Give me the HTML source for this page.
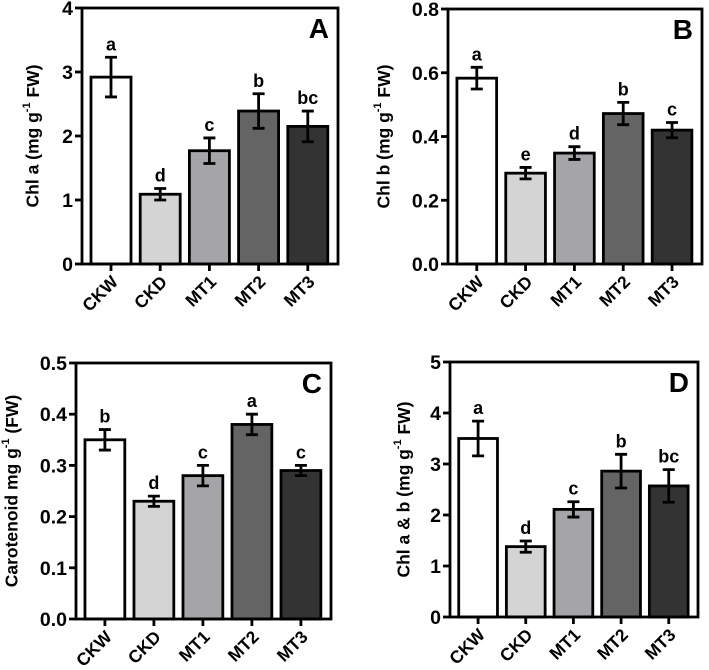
<!DOCTYPE html>
<html><head><meta charset="utf-8"><style>
html,body{margin:0;padding:0;background:#fff;}
svg{display:block;font-family:"Liberation Sans",Arial,sans-serif;font-weight:bold;}
</style></head><body>
<svg id="chart" width="709" height="670" viewBox="0 0 709 670" xmlns="http://www.w3.org/2000/svg"></svg>
<script>
const categories = ["CKW","CKD","MT1","MT2","MT3"];
const barColors = ["#ffffff","#d4d4d4","#a5a5a8","#646464","#333333"];

const valuesA = [2.92,1.09,1.77,2.39,2.15];
const errorsA = [0.31,0.09,0.20,0.27,0.24];
const lettersA = ["a","d","c","b","bc"];
const ticksA = [0,1,2,3,4];
const tickLabelsA = ["0","1","2","3","4"];

const valuesB = [0.583,0.285,0.348,0.472,0.42];
const errorsB = [0.034,0.018,0.02,0.035,0.024];
const lettersB = ["a","e","d","b","c"];
const ticksB = [0,0.2,0.4,0.6,0.8];
const tickLabelsB = ["0.0","0.2","0.4","0.6","0.8"];

const valuesC = [0.35,0.23,0.28,0.38,0.29];
const errorsC = [0.02,0.01,0.02,0.02,0.01];
const lettersC = ["b","d","c","a","c"];
const ticksC = [0,0.1,0.2,0.3,0.4,0.5];
const tickLabelsC = ["0.0","0.1","0.2","0.3","0.4","0.5"];

const valuesD = [3.5,1.38,2.11,2.86,2.57];
const errorsD = [0.34,0.11,0.15,0.33,0.32];
const lettersD = ["a","d","c","b","bc"];
const ticksD = [0,1,2,3,4,5];
const tickLabelsD = ["0","1","2","3","4","5"];

const svg = document.getElementById('chart');
const NS = "http://www.w3.org/2000/svg";
function mk(tag, attrs, parent){
  const e = document.createElementNS(NS, tag);
  for (const k in attrs) e.setAttribute(k, attrs[k]);
  (parent||svg).appendChild(e);
  return e;
}

function panel(id, box, vals, errs, letters, ticks, tickLabels, yTitle, yTitleX, label){
  const g = mk('g', {});
  
  
  const L = box[0], R = box[1], T = box[2], B = box[3];
  const W = R - L, H = B - T;
  const yMax = ticks[ticks.length-1];
  const y = v => B - v / yMax * H;
  const xc = i => L + W * (29 + 49.2 * i) / 256;
  const bw = W * 40 / 256;

  vals.forEach((v, i) => {
    const r = mk('rect', {x: xc(i) - bw/2, y: y(v), width: bw, height: B - y(v), fill: barColors[i], stroke: '#000', 'stroke-width': 2.8}, g);
    
    
    const top = y(v + errs[i]), bot = y(v - errs[i]);
    const eb = mk('path', {d: `M${xc(i)} ${top}V${bot}M${xc(i)-6} ${top}H${xc(i)+6}M${xc(i)-6} ${bot}H${xc(i)+6}`, stroke: '#000', 'stroke-width': 2.8, fill: 'none'}, g);
    
    
    const t = mk('text', {x: xc(i), y: top - 7, 'text-anchor': 'middle', 'font-size': 18}, g);
    t.textContent = letters[i];
    
    
  });

  const fr = mk('rect', {x: L, y: T, width: W, height: H, fill: 'none', stroke: '#000', 'stroke-width': 2.8}, g);
  
  

  ticks.forEach((tv, k) => {
    mk('line', {x1: L - 7, x2: L, y1: y(tv), y2: y(tv), stroke: '#000', 'stroke-width': 2.8}, g);
    const t = mk('text', {x: L - 9, y: y(tv) + 7, 'text-anchor': 'end', 'font-size': 19.5}, g);
    t.textContent = tickLabels[k];
    
    
  });

  categories.forEach((c, i) => {
    mk('line', {x1: xc(i), x2: xc(i), y1: B, y2: B + 7, stroke: '#000', 'stroke-width': 2.8}, g);
    const t = mk('text', {x: xc(i) + 8, y: B + 19, 'text-anchor': 'end', 'font-size': 17.5, transform: `rotate(-45 ${xc(i)+8} ${B+19})`}, g);
    t.textContent = c;
    
    
  });

  const cy = (T + B) / 2;
  const yt = mk('text', {x: yTitleX, y: cy, 'text-anchor': 'middle', 'font-size': 17.5, transform: `rotate(-90 ${yTitleX} ${cy})`, 'dominant-baseline': 'middle'}, g);
  yt.innerHTML = yTitle;
  
  

  const pl = mk('text', {x: R - 9, y: T + 30, 'text-anchor': 'end', 'font-size': 28}, g);
  pl.textContent = label;
  
  
}

const sup = '<tspan dy="-7" font-size="11">-1</tspan><tspan dy="7">';
panel('a', [82,338,8,264], valuesA, errorsA, lettersA, ticksA, tickLabelsA, 'Chl a (mg g' + sup + ' FW)</tspan>', 34, 'A');
panel('b', [448,702,9,264], valuesB, errorsB, lettersB, ticksB, tickLabelsB, 'Chl b (mg g' + sup + ' FW)</tspan>', 385, 'B');
panel('c', [76,331,363,619], valuesC, errorsC, lettersC, ticksC, tickLabelsC, 'Carotenoid mg g' + sup + ' (FW)</tspan>', 13, 'C');
panel('d', [450,698,362,617], valuesD, errorsD, lettersD, ticksD, tickLabelsD, 'Chl a &amp; b (mg g' + sup + ' FW)</tspan>', 405, 'D');
</script>
</body></html>
